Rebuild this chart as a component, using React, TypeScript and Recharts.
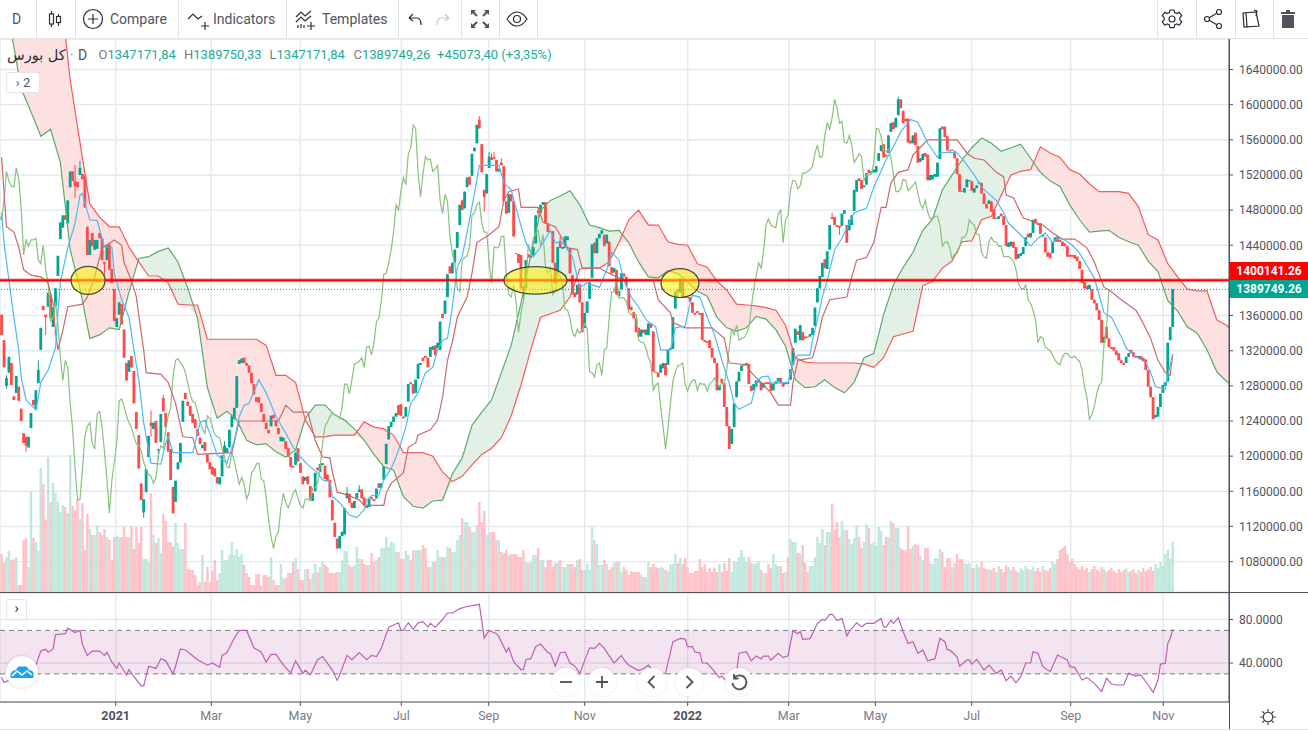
import {
  ComposedChart,
  Area,
  Bar,
  Line,
  XAxis,
  YAxis,
  CartesianGrid,
  ReferenceLine,
  ReferenceArea,
  ReferenceDot,
} from 'recharts';

// prices are in thousands of index points, one entry per trading day
const opens = [
  1361, 1332, 1280, 1295, 1306, 1268, 1272, 1279, 1254, 1226, 1222, 1210, 1232, 1264, 1253, 1283, 1321, 1371, 1361, 1370,
  1383, 1347, 1371, 1405, 1447, 1460, 1474, 1465, 1506, 1524, 1513, 1512, 1520, 1521, 1519, 1461, 1429, 1454, 1435, 1436,
  1454, 1448, 1421, 1423, 1441, 1413, 1390, 1347, 1361, 1373, 1344, 1306, 1296, 1314, 1297, 1250, 1224, 1169, 1136, 1159,
  1199, 1238, 1231, 1240, 1207, 1216, 1266, 1249, 1227, 1208, 1165, 1148, 1185, 1193, 1239, 1272, 1262, 1257, 1248, 1242,
  1231, 1221, 1209, 1216, 1202, 1193, 1188, 1186, 1176, 1168, 1177, 1204, 1204, 1210, 1233, 1242, 1255, 1305, 1306,
  1312, 1306, 1303, 1295, 1282, 1267, 1267, 1260, 1248, 1238, 1230, 1234, 1247, 1241, 1232, 1217, 1217, 1217, 1209, 1199,
  1189, 1190, 1209, 1192, 1177, 1172, 1177, 1166, 1149, 1160, 1187, 1182, 1190, 1189, 1179, 1173, 1150, 1124, 1106, 1095,
  1109, 1111, 1152, 1157, 1147, 1141, 1152, 1159, 1162, 1153, 1144, 1142, 1153, 1151, 1152, 1169, 1164, 1173, 1191, 1219,
  1233, 1239, 1245, 1258, 1259, 1245, 1245, 1262, 1284, 1282, 1272, 1288, 1304, 1312, 1314, 1312, 1313, 1321, 1326, 1323,
  1321, 1362, 1362, 1381, 1416, 1408, 1420, 1437, 1463, 1491, 1482, 1506, 1518, 1519, 1547, 1556, 1583, 1555, 1503, 1499,
  1528, 1540, 1540, 1537, 1524, 1534, 1530, 1490, 1477, 1498, 1490, 1431, 1430, 1429, 1394, 1391, 1430, 1426, 1428, 1442,
  1479, 1477, 1486, 1489, 1465, 1456, 1456, 1420, 1408, 1445, 1436, 1437, 1446, 1437, 1406, 1386, 1384, 1396, 1375, 1346,
  1363, 1379, 1403, 1443, 1431, 1448, 1453, 1452, 1442, 1444, 1415, 1409, 1412, 1382, 1390, 1408, 1404, 1391, 1370, 1364,
  1357, 1346, 1336, 1344, 1338, 1338, 1351, 1342, 1296, 1295, 1295, 1300, 1306, 1304, 1321, 1322, 1368, 1390, 1386, 1400,
  1382, 1381, 1381, 1375, 1363, 1365, 1363, 1363, 1332, 1331, 1332, 1323, 1312, 1306, 1275, 1288, 1283, 1256, 1234, 1214,
  1233, 1267, 1285, 1297, 1303, 1304, 1305, 1280, 1275, 1279, 1284, 1284, 1278, 1284, 1284, 1283, 1275, 1282, 1285, 1289,
  1283, 1282, 1284, 1287, 1304, 1329, 1342, 1332, 1341, 1336, 1336, 1336, 1338, 1348, 1375, 1391, 1404, 1424, 1413, 1435,
  1472, 1472, 1463, 1462, 1462, 1476, 1463, 1457, 1463, 1479, 1501, 1516, 1514, 1506, 1509, 1526, 1522, 1523, 1523, 1536,
  1547, 1555, 1543, 1545, 1569, 1580, 1574, 1588, 1606, 1593, 1584, 1584, 1559, 1556, 1568, 1553, 1535, 1537, 1545, 1543,
  1514, 1515, 1518, 1518, 1538, 1575, 1575, 1564, 1548, 1548, 1547, 1539, 1521, 1502, 1500, 1506, 1513, 1513, 1500, 1505,
  1510, 1511, 1499, 1487, 1487, 1490, 1481, 1470, 1470, 1476, 1473, 1463, 1438, 1439, 1444, 1438, 1425, 1428, 1430, 1439,
  1453, 1449, 1454, 1470, 1465, 1465, 1450, 1449, 1432, 1431, 1431, 1444, 1450, 1446, 1444, 1442, 1439, 1429, 1429, 1429,
  1427, 1422, 1412, 1398, 1394, 1390, 1390, 1378, 1374, 1366, 1355, 1329, 1347, 1334, 1324, 1324, 1320, 1317, 1309, 1306,
  1306, 1313, 1321, 1318, 1314, 1312, 1314, 1312, 1310, 1298, 1279, 1267, 1244, 1245, 1256, 1272, 1280, 1285, 1332, 1347,
];
const closes = [
  1338, 1301, 1289, 1313, 1281, 1264, 1291, 1263, 1240, 1215, 1212, 1222, 1249, 1258, 1275, 1298, 1346, 1366, 1358, 1386,
  1357, 1369, 1391, 1428, 1466, 1474, 1469, 1491, 1524, 1513, 1507, 1506, 1528, 1515, 1483, 1429, 1446, 1439, 1446, 1446,
  1448, 1423, 1419, 1440, 1412, 1397, 1354, 1357, 1375, 1350, 1312, 1286, 1309, 1301, 1260, 1231, 1186, 1150, 1151, 1185,
  1223, 1234, 1238, 1215, 1208, 1248, 1251, 1233, 1205, 1173, 1135, 1172, 1193, 1215, 1263, 1265, 1257, 1246, 1238, 1232,
  1223, 1214, 1213, 1206, 1193, 1185, 1179, 1177, 1169, 1176, 1201, 1212, 1209, 1230, 1246, 1255, 1291, 1309, 1311,
  1306, 1303, 1295, 1283, 1270, 1262, 1261, 1250, 1239, 1231, 1226, 1246, 1243, 1234, 1225, 1222, 1221, 1208, 1199, 1188,
  1187, 1204, 1194, 1181, 1168, 1176, 1168, 1151, 1158, 1181, 1184, 1191, 1192, 1174, 1172, 1153, 1127, 1108, 1095, 1109,
  1114, 1141, 1158, 1147, 1141, 1149, 1158, 1162, 1152, 1144, 1141, 1151, 1151, 1149, 1163, 1164, 1169, 1188, 1214, 1234,
  1239, 1245, 1249, 1247, 1246, 1243, 1256, 1282, 1282, 1271, 1287, 1305, 1306, 1308, 1312, 1301, 1324, 1325, 1315, 1329,
  1353, 1357, 1377, 1407, 1408, 1420, 1435, 1455, 1486, 1480, 1501, 1517, 1509, 1544, 1551, 1577, 1573, 1523, 1495, 1521,
  1541, 1537, 1538, 1524, 1527, 1531, 1490, 1476, 1498, 1490, 1450, 1430, 1420, 1391, 1387, 1423, 1426, 1428, 1438, 1474,
  1477, 1486, 1489, 1465, 1455, 1455, 1420, 1397, 1438, 1437, 1438, 1450, 1450, 1408, 1384, 1381, 1395, 1375, 1341, 1363,
  1376, 1398, 1441, 1431, 1448, 1453, 1457, 1439, 1452, 1416, 1408, 1414, 1384, 1388, 1408, 1404, 1394, 1367, 1366, 1357,
  1341, 1336, 1344, 1340, 1344, 1351, 1346, 1296, 1295, 1290, 1304, 1306, 1292, 1321, 1323, 1358, 1387, 1387, 1402, 1380,
  1380, 1380, 1376, 1363, 1361, 1363, 1361, 1332, 1330, 1329, 1323, 1312, 1306, 1275, 1281, 1283, 1256, 1234, 1208, 1231,
  1260, 1285, 1296, 1303, 1304, 1306, 1282, 1274, 1282, 1286, 1287, 1275, 1283, 1282, 1282, 1274, 1282, 1285, 1289, 1283,
  1279, 1283, 1282, 1299, 1323, 1345, 1338, 1349, 1332, 1334, 1335, 1339, 1346, 1369, 1391, 1405, 1420, 1414, 1433, 1463,
  1470, 1463, 1461, 1460, 1476, 1480, 1443, 1469, 1474, 1503, 1514, 1513, 1504, 1508, 1522, 1522, 1524, 1526, 1530, 1545,
  1554, 1540, 1541, 1565, 1579, 1572, 1585, 1606, 1596, 1579, 1581, 1557, 1556, 1565, 1554, 1534, 1539, 1544, 1541, 1514,
  1520, 1520, 1521, 1534, 1573, 1572, 1563, 1548, 1547, 1549, 1539, 1521, 1501, 1501, 1505, 1515, 1514, 1502, 1505, 1508,
  1512, 1499, 1487, 1482, 1491, 1478, 1470, 1471, 1473, 1473, 1463, 1439, 1443, 1444, 1437, 1424, 1430, 1431, 1438, 1449,
  1449, 1454, 1469, 1465, 1463, 1453, 1452, 1432, 1427, 1425, 1444, 1449, 1444, 1444, 1439, 1439, 1427, 1427, 1427, 1425,
  1422, 1413, 1397, 1391, 1390, 1395, 1378, 1374, 1366, 1355, 1329, 1336, 1334, 1324, 1322, 1320, 1315, 1309, 1306, 1304,
  1313, 1317, 1317, 1313, 1312, 1314, 1310, 1308, 1298, 1279, 1267, 1242, 1247, 1256, 1271, 1281, 1284, 1329, 1347, 1390,
];
// the few days whose wick is long enough to see: [bar, high, low]
const longWicks = [
  [2, 1292, 1277], [10, 1222, 1205], [15, 1309, 1283], [18, 1361, 1338], [30, 1531, 1494], [32, 1536, 1520], [42, 1421, 1406],
  [58, 1151, 1130], [61, 1252, 1222], [64, 1208, 1197], [66, 1270, 1251], [91, 1217, 1204], [141, 1165, 1152], [146, 1167, 1159],
  [195, 1587, 1573], [197, 1503, 1478], [199, 1546, 1528], [200, 1545, 1537], [201, 1546, 1538], [204, 1539, 1531], [213, 1394, 1380],
  [219, 1483, 1470], [228, 1450, 1437], [276, 1390, 1380], [339, 1477, 1470], [342, 1462, 1452], [366, 1609, 1588],
];
const volumes = [
  38, 29, 35, 41, 32, 33, 35, 7, 7, 52, 54, 25, 101, 54, 50, 41, 124, 108, 72, 135,
  90, 109, 99, 90, 80, 87, 85, 79, 137, 86, 82, 92, 73, 89, 42, 78, 63, 57, 57, 67,
  60, 57, 63, 55, 52, 32, 55, 56, 55, 55, 65, 55, 55, 66, 43, 65, 49, 65, 33, 33,
  29, 99, 57, 49, 54, 39, 78, 71, 50, 50, 45, 69, 49, 43, 43, 69, 23, 22, 22, 17,
  7, 10, 37, 10, 25, 10, 21, 32, 12, 19, 42, 32, 32, 37, 50, 37, 43, 35, 38, 27,
  19, 15, 7, 7, 18, 18, 7, 17, 17, 15, 35, 12, 7, 7, 28, 14, 14, 19, 19, 30,
  34, 23, 12, 12, 23, 23, 13, 19, 28, 20, 25, 30, 27, 25, 19, 19, 19, 20, 20, 32,
  41, 41, 27, 25, 27, 45, 33, 33, 28, 27, 27, 39, 30, 32, 35, 44, 44, 55, 45, 50,
  49, 40, 40, 33, 33, 41, 37, 32, 42, 42, 42, 42, 47, 44, 25, 25, 30, 30, 42, 35,
  35, 35, 45, 44, 40, 40, 52, 57, 74, 70, 70, 65, 60, 60, 67, 90, 70, 81, 57, 59,
  60, 60, 52, 52, 40, 39, 42, 37, 38, 38, 38, 35, 35, 42, 30, 29, 30, 37, 37, 44,
  32, 32, 25, 32, 32, 25, 29, 29, 32, 25, 25, 28, 28, 28, 25, 32, 33, 22, 22, 28,
  22, 65, 52, 48, 27, 27, 32, 28, 22, 25, 29, 30, 30, 20, 25, 22, 17, 21, 20, 20,
  20, 17, 15, 15, 30, 25, 28, 25, 24, 25, 24, 22, 21, 28, 28, 38, 29, 34, 28, 34,
  25, 19, 19, 21, 21, 33, 25, 28, 20, 24, 20, 24, 20, 28, 20, 29, 21, 34, 20, 30,
  30, 35, 42, 35, 30, 35, 29, 28, 29, 31, 22, 19, 19, 28, 24, 38, 28, 26, 26, 19,
  20, 35, 53, 50, 50, 39, 39, 47, 29, 20, 26, 26, 35, 55, 49, 63, 47, 60, 60, 88,
  62, 70, 55, 71, 62, 62, 53, 48, 54, 67, 55, 44, 50, 68, 64, 48, 50, 47, 65, 61,
  47, 55, 55, 71, 69, 64, 64, 44, 42, 42, 66, 43, 46, 48, 47, 36, 32, 44, 44, 29,
  28, 34, 34, 43, 40, 25, 34, 34, 25, 29, 38, 33, 33, 29, 28, 29, 24, 24, 28, 25,
  30, 24, 23, 23, 22, 24, 20, 26, 23, 20, 27, 25, 22, 25, 21, 20, 24, 22, 26, 23,
  22, 25, 21, 24, 20, 26, 22, 21, 24, 30, 28, 33, 42, 44, 46, 38, 30, 33, 28, 25,
  23, 26, 22, 24, 20, 23, 26, 22, 21, 25, 23, 20, 22, 24, 21, 19, 23, 20, 22, 24,
  20, 21, 23, 19, 22, 20, 24, 21, 23, 25, 21, 28, 24, 30, 26, 38, 42, 33, 50,
];
// ichimoku lines read at their corners: [bar, price]
const tenkan = [
  [0, 1477], [1, 1443], [3, 1400], [5, 1358], [7, 1321], [8, 1290], [10, 1264], [12, 1258], [14, 1253], [15, 1267], [16, 1284], [19, 1298],
  [22, 1323], [23, 1363], [24, 1398], [27, 1437], [30, 1465], [32, 1497], [33, 1499], [34, 1488], [36, 1469], [39, 1468], [41, 1448], [42, 1438],
  [45, 1438], [46, 1408], [49, 1378], [52, 1358], [53, 1340], [54, 1321], [56, 1287], [58, 1238], [59, 1222], [61, 1192], [65, 1191], [67, 1215],
  [68, 1222], [70, 1204], [78, 1204], [81, 1238], [83, 1241], [86, 1218], [88, 1201], [92, 1192], [95, 1218], [97, 1245], [99, 1258], [101, 1260],
  [105, 1287], [108, 1272], [112, 1245], [116, 1226], [119, 1210], [122, 1199], [125, 1190], [129, 1181], [131, 1173], [134, 1171], [135, 1154],
  [138, 1147], [142, 1133], [145, 1130], [148, 1139], [149, 1150], [151, 1155], [154, 1156], [156, 1173], [159, 1186], [161, 1199], [163, 1215],
  [165, 1233], [167, 1260], [170, 1272], [173, 1295], [176, 1301], [178, 1321], [180, 1332], [182, 1334], [184, 1370], [186, 1415], [188, 1427],
  [191, 1469], [194, 1514], [195, 1531], [203, 1531], [205, 1511], [208, 1503], [211, 1472], [214, 1443], [217, 1427], [220, 1438], [224, 1457],
  [226, 1443], [229, 1443], [233, 1427], [236, 1392], [239, 1397], [244, 1392], [247, 1412], [249, 1432], [252, 1423], [254, 1400], [257, 1381],
  [260, 1370], [263, 1355], [267, 1347], [269, 1321], [273, 1321], [275, 1346], [279, 1348], [281, 1374], [282, 1383], [285, 1381], [288, 1358],
  [291, 1338], [294, 1309], [297, 1283], [299, 1260], [301, 1253], [304, 1258], [306, 1260], [308, 1283], [310, 1290], [313, 1291], [314, 1283],
  [316, 1283], [321, 1284], [323, 1306], [325, 1315], [330, 1315], [331, 1332], [333, 1355], [335, 1381], [337, 1400], [340, 1435], [343, 1448],
  [348, 1477], [353, 1482], [356, 1506], [361, 1537], [364, 1552], [367, 1569], [371, 1583], [374, 1580], [376, 1568], [378, 1556], [382, 1540],
  [383, 1545], [387, 1546], [390, 1545], [393, 1535], [397, 1520], [400, 1506], [402, 1501], [406, 1491], [409, 1477], [411, 1465], [414, 1457],
  [417, 1449], [420, 1439], [423, 1448], [426, 1454], [429, 1443], [431, 1448], [434, 1446], [437, 1440], [440, 1431], [443, 1417], [446, 1403],
  [450, 1363], [453, 1358], [457, 1336], [459, 1323], [463, 1313], [467, 1307], [469, 1295], [471, 1279], [475, 1276], [476, 1292], [478, 1316],
];
const kijun = [
  [0, 1540], [2, 1461], [5, 1455], [7, 1438], [9, 1412], [12, 1406], [16, 1404], [19, 1397], [21, 1374], [22, 1340], [23, 1321], [25, 1343],
  [27, 1370], [33, 1373], [35, 1381], [38, 1404], [41, 1437], [46, 1446], [49, 1440], [50, 1420], [53, 1400], [55, 1381], [57, 1340], [58, 1321],
  [59, 1295], [65, 1293], [68, 1284], [71, 1260], [74, 1222], [78, 1221], [80, 1202], [94, 1204], [97, 1240], [113, 1240], [116, 1258], [119, 1250],
  [125, 1250], [128, 1218], [131, 1199], [134, 1198], [135, 1182], [137, 1159], [141, 1156], [146, 1150], [148, 1144], [156, 1144], [157, 1158],
  [159, 1169], [164, 1181], [166, 1210], [169, 1215], [170, 1224], [175, 1230], [178, 1241], [180, 1267], [182, 1309], [184, 1330], [186, 1358],
  [190, 1381], [192, 1408], [194, 1443], [199, 1452], [203, 1461], [205, 1491], [207, 1501], [211, 1504], [212, 1483], [219, 1483], [221, 1466],
  [226, 1461], [231, 1437], [235, 1435], [237, 1414], [244, 1414], [248, 1408], [254, 1400], [266, 1400], [268, 1378], [273, 1363], [274, 1352],
  [279, 1346], [290, 1346], [295, 1334], [297, 1306], [304, 1304], [306, 1295], [310, 1284], [314, 1272], [317, 1258], [322, 1258], [323, 1283],
  [325, 1309], [331, 1312], [333, 1332], [335, 1358], [338, 1378], [345, 1381], [347, 1404], [349, 1423], [353, 1426], [356, 1443], [359, 1483],
  [361, 1483], [363, 1511], [366, 1523], [370, 1526], [372, 1543], [378, 1560], [390, 1560], [394, 1545], [397, 1539], [401, 1537], [406, 1523],
  [409, 1518], [410, 1497], [413, 1494], [417, 1471], [425, 1463], [429, 1454], [433, 1447], [438, 1447], [443, 1437], [446, 1421], [450, 1392],
  [452, 1389], [457, 1378], [463, 1366], [466, 1351], [469, 1334], [472, 1309], [475, 1295], [477, 1292], [478, 1316],
];
// cloud edges share their sampling, one value every cloudStep bars
const cloudStep = 4;
const spanA = [
  1753, 1682, 1618, 1592, 1564, 1572, 1534, 1435, 1391, 1334, 1338, 1346, 1344, 1387, 1425, 1427, 1433, 1437, 1421, 1391,
  1357, 1278, 1243, 1251, 1241, 1218, 1213, 1214, 1205, 1199, 1207, 1243, 1258, 1258, 1247, 1241, 1231, 1218, 1202, 1188,
  1184, 1154, 1143, 1141, 1149, 1150, 1180, 1198, 1235, 1250, 1264, 1295, 1326, 1374, 1429, 1480, 1491, 1496, 1502, 1486,
  1463, 1460, 1456, 1457, 1443, 1421, 1404, 1403, 1411, 1408, 1398, 1388, 1382, 1358, 1346, 1342, 1346, 1359, 1356, 1344,
  1325, 1287, 1278, 1279, 1287, 1278, 1272, 1284, 1312, 1317, 1361, 1395, 1415, 1432, 1457, 1470, 1503, 1520, 1537, 1551,
  1562, 1556, 1547, 1551, 1555, 1539, 1523, 1513, 1507, 1486, 1469, 1455, 1456, 1457, 1449, 1444, 1440, 1422, 1410, 1377,
  1365, 1347, 1340, 1321, 1296, 1285, 1278,
];
const spanB = [
  1810, 1810, 1799, 1787, 1776, 1765, 1731, 1628, 1557, 1487, 1472, 1461, 1461, 1438, 1421, 1405, 1405, 1397, 1373, 1372,
  1372, 1333, 1333, 1333, 1333, 1333, 1333, 1326, 1292, 1292, 1284, 1241, 1222, 1222, 1224, 1224, 1224, 1239, 1233, 1231,
  1224, 1204, 1204, 1204, 1200, 1182, 1171, 1177, 1190, 1202, 1209, 1221, 1246, 1281, 1321, 1358, 1362, 1366, 1381, 1413,
  1414, 1414, 1421, 1443, 1469, 1480, 1463, 1463, 1444, 1441, 1440, 1419, 1415, 1399, 1389, 1373, 1372, 1371, 1369, 1366,
  1349, 1312, 1307, 1306, 1306, 1306, 1306, 1306, 1305, 1301, 1312, 1336, 1339, 1342, 1394, 1399, 1414, 1422, 1444, 1445,
  1469, 1473, 1497, 1520, 1524, 1526, 1552, 1545, 1540, 1526, 1521, 1510, 1501, 1501, 1501, 1499, 1484, 1452, 1446, 1419,
  1404, 1390, 1388, 1388, 1355, 1349, 1338,
];
// rsi read at its corners: [bar, value]
const rsi = [
  [0, 26.8], [1, 22], [3, 24], [8, 30], [13, 38], [14, 38], [16, 51], [18, 52.6], [19, 50], [21, 53], [22, 66], [26, 67], [27, 72], [30, 68], [32, 70],
  [33, 57], [35, 47], [37, 51], [40, 51], [42, 47], [43, 50], [45, 41], [47, 35], [48, 40], [51, 29], [52, 34], [53, 30.5], [57, 19], [58, 19], [60, 37],
  [63, 35], [65, 44], [67, 42], [70, 30], [71, 37], [73, 53], [75, 52], [80, 43], [84, 38], [86, 40], [89, 36], [90, 47], [92, 49.5], [95, 63], [97, 70],
  [100, 70], [103, 54], [106, 50], [108, 41], [110, 48], [112, 48], [115, 38], [118, 31], [120, 42], [123, 30.5], [124, 33.5], [126, 29], [129, 43],
  [131, 46], [135, 33.5], [137, 24], [138, 29], [141, 47], [143, 43], [146, 49.5], [149, 43], [151, 47], [153, 46], [155, 53.5], [158, 73], [162, 77],
  [163, 70], [164, 70], [166, 77], [168, 71], [170, 77], [172, 78], [174, 73], [175, 76.5], [177, 73], [180, 80], [182, 86], [184, 86], [187, 90],
  [190, 92], [195, 94], [197, 63], [199, 70], [202, 67], [203, 64], [206, 50], [207, 54], [209, 41], [212, 34], [213, 34], [214, 43], [216, 44], [218, 55],
  [220, 57.5], [223, 49.5], [224, 49], [226, 37], [228, 49.5], [230, 50], [232, 40], [234, 37], [236, 30.5], [240, 54], [242, 53.5], [244, 58], [246, 53.5],
  [250, 40], [253, 47], [254, 43], [256, 38], [260, 33], [262, 35], [264, 38], [266, 32], [267, 29], [271, 30.5], [274, 59.6], [277, 62.7], [279, 62],
  [280, 55], [282, 55], [283, 50], [285, 49.5], [286, 40], [288, 40], [291, 32], [293, 26.5], [294, 28], [297, 20], [299, 18], [300, 32], [301, 49], [304, 50.5],
  [306, 42], [308, 46.4], [310, 43.7], [311, 46.4], [313, 46.4], [314, 42.8], [317, 49], [319, 45], [321, 46.7], [323, 69.7], [325, 67], [326, 69], [327, 61.8],
  [330, 62.4], [333, 76.5], [335, 80], [336, 79], [338, 84.8], [339, 85], [341, 79], [343, 81], [345, 65], [346, 69], [349, 77], [351, 73.4], [353, 76.5],
  [356, 76.5], [359, 81], [360, 73.4], [361, 72.8], [363, 79.5], [364, 76.5], [366, 81.7], [368, 68.8], [370, 58], [372, 59.6], [374, 49], [376, 52], [378, 42],
  [381, 44], [383, 62.7], [385, 59.6], [386, 52], [387, 52], [390, 45.8], [391, 37], [394, 42.8], [395, 42.8], [396, 39], [398, 43.4], [401, 33.6], [403, 38],
  [406, 30.5], [408, 33.6], [410, 23.8], [412, 28], [414, 22], [416, 27.4], [418, 40], [420, 40], [421, 50.4], [423, 49], [425, 36.6], [428, 32], [431, 47.4],
  [435, 42.8], [436, 36.6], [438, 36], [441, 24.4], [443, 26.8], [446, 21.3], [449, 13.6], [451, 26], [453, 20.7], [455, 19.8], [458, 19.8], [460, 30.5],
  [463, 28], [465, 29], [468, 19.8], [470, 13], [472, 24.4], [473, 39], [475, 39.7], [476, 58], [477, 62.7], [478, 71],
];
// 1400000 sits behind the red price tag in the reference, so it has no visible label
const priceTicks = [
  1640000, 1600000, 1560000, 1520000, 1480000, 1440000, 1360000, 1320000, 1280000, 1240000, 1200000, 1160000, 1120000, 1080000,
];
const rsiTicks = [80, 40];
const monthLabels = ['2021', 'Mar', 'May', 'Jul', 'Sep', 'Nov', '2022', 'Mar', 'May', 'Jul', 'Sep', 'Nov'];
const monthBars = [46.57, 85.59, 121.92, 163.15, 198.82, 238.0, 280.04, 321.27, 356.62, 395.96, 436.37, 474.16];
const alertPrice = 1400141.26;
const lastPrice = 1389749.26;
// yellow circles drawn on the chart by its author
const circleBars = [35.3, 217.9, 276.9];
const circlePrices = [1400, 1400, 1397];
const circleRadii = [[17, 14], [31.5, 13.7], [19, 14.5]];

const CHART_WIDTH = 1308;
const AXIS_WIDTH = 79;
const barDomain = [-0.65, 500.98];
const priceDomain = [1045400, 1674700];
const rsiDomain = [4.14, 104.4];
const volumeDomain = [0, 553];

const GRID = '#e1eaf0';
const AXIS = '#50535e';
const UP = '#00a693';
const DOWN = '#ff4a4a';
const TEXT = '#50535e';
const CANDLE_WIDTH = 2.8;
const VOLUME_WIDTH = 2.45;

const candleRows = closes.map((c, i) => {
  const wick = longWicks.find((w) => w[0] === i);
  const open = opens[i] * 1000;
  const close = c * 1000;
  const high = wick ? wick[1] * 1000 : Math.max(open, close);
  const low = wick ? wick[2] * 1000 : Math.min(open, close);
  return { bar: i, open, close, high, low, range: [low, high], volume: volumes[i] };
});
const cloudRows = spanA.map((a, i) => {
  const b = spanB[i];
  const floor = Math.min(a, b) * 1000;
  return { bar: i * cloudStep, a: a * 1000, b: b * 1000, green: [floor, a * 1000], red: [floor, b * 1000] };
});
const toRows = (points: number[][], unit = 1000) => points.map(([bar, v]) => ({ bar, value: v * unit }));
const tenkanRows = toRows(tenkan);
const kijunRows = toRows(kijun);
const chikouRows = closes.map((c, i) => ({ bar: i - 26, value: c * 1000 }));
const rsiRows = toRows(rsi, 1);

const Candle = (props: any) => {
  const { x, y, width, height, payload } = props;
  if (!payload || payload.high === payload.low) return null;
  const perUnit = height / (payload.high - payload.low);
  const top = y + (payload.high - Math.max(payload.open, payload.close)) * perUnit;
  const bodyHeight = Math.max(Math.abs(payload.open - payload.close) * perUnit, 1);
  const color = payload.close >= payload.open ? UP : DOWN;
  const center = x + width / 2;
  return (
    <g>
      <line x1={center} x2={center} y1={y} y2={y + height} stroke={color} strokeWidth={1} />
      <rect x={center - CANDLE_WIDTH / 2} y={top} width={CANDLE_WIDTH} height={bodyHeight} fill={color} />
    </g>
  );
};

const VolumeBar = (props: any) => {
  const { x, y, width, height, payload } = props;
  const up = payload.close >= payload.open;
  return <rect x={x + width / 2 - VOLUME_WIDTH / 2} y={y} width={VOLUME_WIDTH} height={height} fill={up ? '#bbe6d9' : '#ffbdc3'} fillOpacity={0.92} />;
};

const MonthTick = (props: any) => {
  const { x, y, payload } = props;
  const label = monthLabels[monthBars.indexOf(payload.value)];
  const isYear = label && label.startsWith('20');
  return (
    <text x={x} y={y + 12} textAnchor="middle" fontSize={12.5} fontWeight={isYear ? 700 : 400} fill={isYear ? TEXT : '#787b86'}>
      {label}
    </text>
  );
};

const circleShape = (radii: number[]) => (props: any) => (
  <ellipse cx={props.cx} cy={props.cy} rx={radii[0]} ry={radii[1]} fill="rgba(255,240,0,0.55)" stroke="#4a4a3a" strokeWidth={1.3} />
);

const Icon = ({ x, w = 24, children }: { x: number; w?: number; children: any }) => (
  <svg style={{ position: 'absolute', left: x - w / 2, top: 19 - w / 2 }} width={w} height={w} viewBox="0 0 24 24" fill="none" stroke="#2a2e39" strokeWidth={1.2}>
    {children}
  </svg>
);

const Label = ({ x, children }: { x: number; children: any }) => (
  <div style={{ position: 'absolute', left: x, top: 10, fontSize: 14, color: TEXT, lineHeight: '18px' }}>{children}</div>
);

const Round = ({ x, children }: { x: number; children: any }) => (
  <div style={{ position: 'absolute', left: x - 14, top: 668, width: 28, height: 28, borderRadius: 14, background: 'rgba(255,255,255,0.92)', boxShadow: '0 0 3px rgba(0,0,0,0.12)' }}>
    <svg width={28} height={28} viewBox="0 0 28 28" fill="none" stroke="#50535e" strokeWidth={1.8}>
      {children}
    </svg>
  </div>
);

const Legend = ({ x, letter, value }: { x: number; letter: string; value: string }) => (
  <div style={{ position: 'absolute', left: x, top: 47, fontSize: 13, lineHeight: '16px', whiteSpace: 'nowrap' }}>
    <span style={{ color: '#787b86' }}>{letter}</span>
    <span style={{ color: '#22ab94' }}>{value}</span>
  </div>
);

const toolbarDividers = [35.5, 74.5, 177.5, 285.5, 397.5, 460.5, 498.5, 536.5, 1156.5, 1195.5, 1234.5, 1272.5];

export default function App() {
  return (
    <div style={{ position: 'absolute', left: 0, top: 0, width: CHART_WIDTH, height: 731, background: '#fff', overflow: 'hidden', fontFamily: 'Roboto, sans-serif' }}>
      {/* main pane */}
      <div style={{ position: 'absolute', left: 0, top: 39 }}>
        <ComposedChart width={CHART_WIDTH} height={553} data={candleRows} margin={{ top: 0, right: 0, bottom: 0, left: 0 }} barGap={0}>
          <CartesianGrid stroke={GRID} strokeWidth={1.4} />
          <XAxis dataKey="bar" type="number" domain={barDomain} ticks={monthBars} allowDataOverflow hide />
          <XAxis xAxisId="vol" dataKey="bar" type="number" domain={barDomain} allowDataOverflow hide />
          <YAxis
            orientation="right"
            width={AXIS_WIDTH}
            domain={priceDomain}
            ticks={priceTicks}
            allowDataOverflow
            interval={0}
            tickFormatter={(v: number) => v.toFixed(2)}
            tick={{ fontSize: 12, fill: TEXT }}
            tickSize={4}
            tickMargin={6}
            stroke={AXIS}
          />
          <YAxis yAxisId="vol" domain={volumeDomain} hide />
          <Area data={cloudRows} dataKey="green" stroke="none" fill="#e2f0e6" fillOpacity={1} dot={false} activeDot={false} isAnimationActive={false} />
          <Area data={cloudRows} dataKey="red" stroke="none" fill="#fde0e0" fillOpacity={1} dot={false} activeDot={false} isAnimationActive={false} />
          <Bar xAxisId="vol" yAxisId="vol" dataKey="volume" barSize={2.45} shape={VolumeBar} isAnimationActive={false} />
          <Line data={cloudRows} dataKey="a" stroke="#5aab68" strokeWidth={1.2} dot={false} activeDot={false} isAnimationActive={false} />
          <Line data={cloudRows} dataKey="b" stroke="#f65a5a" strokeWidth={1.2} dot={false} activeDot={false} isAnimationActive={false} />
          <Line data={chikouRows} dataKey="value" stroke="#8ac17d" strokeWidth={1.2} dot={false} activeDot={false} isAnimationActive={false} />
          <Line data={kijunRows} dataKey="value" stroke="#c96a6a" strokeWidth={1.2} dot={false} activeDot={false} isAnimationActive={false} />
          <Line data={tenkanRows} dataKey="value" stroke="#4dbaf5" strokeWidth={1.2} dot={false} activeDot={false} isAnimationActive={false} />
          <Bar dataKey="range" barSize={2.4} shape={Candle} isAnimationActive={false} />
          <ReferenceLine y={alertPrice} stroke="rgba(255,0,0,0.3)" strokeWidth={4} />
          <ReferenceLine y={alertPrice} stroke="#ff0000" strokeWidth={2} />
          <ReferenceLine y={lastPrice} stroke="#0a8f7e" strokeWidth={1} strokeDasharray="1 2" />
          {circleBars.map((bar, i) => (
            <ReferenceDot key={bar} x={bar} y={circlePrices[i] * 1000} shape={circleShape(circleRadii[i])} />
          ))}
        </ComposedChart>
      </div>

      {/* rsi pane and time axis */}
      <div style={{ position: 'absolute', left: 0, top: 593 }}>
        <ComposedChart width={CHART_WIDTH} height={136} data={rsiRows} margin={{ top: 0, right: 0, bottom: 0, left: 0 }}>
          <CartesianGrid stroke={GRID} strokeWidth={1.4} />
          <XAxis
            dataKey="bar"
            type="number"
            domain={barDomain}
            ticks={monthBars}
            interval={0}
            allowDataOverflow
            height={27}
            tick={MonthTick}
            tickSize={4}
            stroke={AXIS}
          />
          <YAxis
            orientation="right"
            width={AXIS_WIDTH}
            domain={rsiDomain}
            ticks={rsiTicks}
            interval={0}
            allowDataOverflow
            tickFormatter={(v: number) => v.toFixed(4)}
            tick={{ fontSize: 12, fill: TEXT }}
            tickSize={4}
            tickMargin={6}
            stroke={AXIS}
          />
          <ReferenceArea y1={30} y2={70} fill="#c77ab6" fillOpacity={0.2} stroke="none" />
          <ReferenceLine y={70} stroke="#787b86" strokeDasharray="5 4" />
          <ReferenceLine y={30} stroke="#787b86" strokeDasharray="5 4" />
          <Line dataKey="value" stroke="#bd5fb4" strokeWidth={1.2} dot={false} activeDot={false} isAnimationActive={false} />
        </ComposedChart>
      </div>

      {/* pane frame */}
      <div style={{ position: 'absolute', left: 0, top: 592, width: 1308, height: 1, background: AXIS }} />
      <div style={{ position: 'absolute', left: 1229, top: 39, width: 1, height: 690, background: AXIS }} />
      <div style={{ position: 'absolute', left: 0, top: 729, width: 1308, height: 1, background: '#e0e3eb' }} />

      {/* toolbar */}
      <div style={{ position: 'absolute', left: 0, top: 0, width: 1308, height: 38, background: '#fff', borderBottom: '1px solid #e0e3eb' }}>
        {toolbarDividers.map((x) => (
          <div key={x} style={{ position: 'absolute', left: x, top: 0, width: 1, height: 38, background: '#e0e3eb' }} />
        ))}
        <Label x={12}>D</Label>
        <Icon x={55}>
          <path d="M8.5 4v16M15.5 7v12" />
          <rect x="6.5" y="7" width="4" height="10" fill="#fff" />
          <rect x="13.5" y="9.5" width="4" height="6" fill="#fff" />
        </Icon>
        <Icon x={93}>
          <circle cx="12" cy="12" r="9.5" />
          <path d="M12 7v10M7 12h10" />
        </Icon>
        <Label x={110}>Compare</Label>
        <Icon x={198}>
          <path d="M2 12l5-5 5 5 4-3M15 19h8M19 15v8" />
        </Icon>
        <Label x={213}>Indicators</Label>
        <Icon x={305}>
          <path d="M3 10l5-5 4 4 6-5M3 15l5-5 4 4 6-5M5 21v-3M8 21v-4M11 21v-3M14 19h8M18 15v8" />
        </Icon>
        <Label x={322}>Templates</Label>
        <Icon x={415}>
          <path d="M6 11l4-4M6 11l4 3M6 11h8c3 0 4 3 4 7" />
        </Icon>
        <svg style={{ position: 'absolute', left: 431, top: 7 }} width={24} height={24} viewBox="0 0 24 24" fill="none" stroke="#c5c8d0" strokeWidth={1.2}>
          <path d="M18 11l-4-4M18 11l-4 3M18 11h-8c-3 0-4 3-4 7" />
        </svg>
        <Icon x={480}>
          <path d="M4 4l5 5M20 4l-5 5M4 20l5-5M20 20l-5-5" stroke="#50535e" strokeWidth={2} />
          <path d="M3 3h5l-5 5zM21 3h-5l5 5zM3 21h5l-5-5zM21 21h-5l5-5z" fill="#50535e" stroke="none" />
        </Icon>
        <Icon x={517}>
          <path d="M2 12c4-6 7-7 10-7s6 1 10 7c-4 6-7 7-10 7s-6-1-10-7z" />
          <circle cx="12" cy="12" r="3.5" />
        </Icon>
        <Icon x={1172}>
          <path d="M10 3h4l.6 2.6 2.2 1 2.4-1.3 2.6 3.4-2 1.9v2.4l2 1.9-2.6 3.4-2.4-1.3-2.2 1-.6 2.6h-4l-.6-2.6-2.2-1-2.4 1.3-2.6-3.4 2-1.9v-2.4l-2-1.9 2.6-3.4 2.4 1.3 2.2-1z" />
          <circle cx="12" cy="12" r="3" />
        </Icon>
        <Icon x={1213}>
          <circle cx="6" cy="12" r="2.5" />
          <circle cx="18" cy="5" r="2.5" />
          <circle cx="18" cy="19" r="2.5" />
          <path d="M8.2 10.8l7.6-4.6M8.2 13.2l7.6 4.6" />
        </Icon>
        <Icon x={1251}>
          <path d="M4 6l13-1 3 14-15 1zM7 6l1 14M15 3l3 1-1 5" />
        </Icon>
        <Icon x={1288}>
          <path d="M6 8h12v13H6z" fill={AXIS} stroke="none" />
          <path d="M5 5h14v2H5zM10 3h4v2h-4z" fill={AXIS} stroke="none" />
        </Icon>
      </div>

      {/* series legend */}
      <div style={{ position: 'absolute', left: 7, top: 45, fontSize: 14.5, lineHeight: '20px', color: '#2a2e39', fontFamily: '"DejaVu Sans", sans-serif', direction: 'rtl', whiteSpace: 'nowrap' }}>کل بورس</div>
      <div style={{ position: 'absolute', left: 70, top: 47, fontSize: 13, lineHeight: '16px', color: '#787b86' }}>·</div>
      <div style={{ position: 'absolute', left: 78, top: 46, fontSize: 14, lineHeight: '18px', color: TEXT }}>D</div>
      <Legend x={98.5} letter="O" value="1347171,84" />
      <Legend x={184} letter="H" value="1389750,33" />
      <Legend x={269.5} letter="L" value="1347171,84" />
      <Legend x={353.5} letter="C" value="1389749,26" />
      <Legend x={437} letter="" value="+45073,40 (+3,35%)" />
      <div style={{ position: 'absolute', left: 6, top: 72, width: 32, height: 19, border: '1px solid #e0e3eb', borderRadius: 3, background: '#fff', fontSize: 13, lineHeight: '19px', color: TEXT, textAlign: 'center' }}>› 2</div>
      <div style={{ position: 'absolute', left: 6, top: 599, width: 19, height: 19, border: '1px solid #e0e3eb', borderRadius: 3, background: '#fff', fontSize: 14, lineHeight: '17px', color: '#2a2e39', textAlign: 'center' }}>›</div>

      {/* price tags */}
      <div style={{ position: 'absolute', left: 1230, top: 262, width: 78, height: 18, background: '#ff0000', color: '#fff', fontSize: 12, fontWeight: 700, lineHeight: '18px', textAlign: 'center' }}>1400141.26</div>
      <div style={{ position: 'absolute', left: 1230, top: 280, width: 78, height: 18, background: '#00a693', color: '#fff', fontSize: 12, fontWeight: 700, lineHeight: '18px', textAlign: 'center' }}>1389749.26</div>

      {/* floating controls */}
      <div style={{ position: 'absolute', left: 6, top: 656, width: 32, height: 32, borderRadius: 16, background: '#fff', boxShadow: '0 0 3px rgba(0,0,0,0.18)' }}>
        <svg width={32} height={32} viewBox="0 0 32 32">
          <path d="M5 22c-2-5 2-8 5-8 1-3 4-5 6-3 3-2 6 0 7 3 4 0 6 4 4 8z" fill="#1ba4e8" />
          <path d="M6 20l5-5 5 4 5-4 5 4" fill="none" stroke="#fff" strokeWidth={1.6} />
        </svg>
      </div>
      <Round x={566}><path d="M8 14h12" /></Round>
      <Round x={602}><path d="M8 14h12M14 8v12" /></Round>
      <Round x={652}><path d="M16.5 8l-6 6 6 6" /></Round>
      <Round x={689}><path d="M11.5 8l6 6-6 6" /></Round>
      <Round x={739}><path d="M9 10a7 7 0 1 1-1.5 5M9 6v4.5h4.5" /></Round>
      <svg style={{ position: 'absolute', left: 1259, top: 708 }} width={18} height={18} viewBox="0 0 18 18" fill="none" stroke="#2a2e39" strokeWidth={1.1}>
        <circle cx="9" cy="9" r="4.8" />
        <path d="M9 1v2.5M9 14.5V17M1 9h2.5M14.5 9H17M3.3 3.3l1.8 1.8M12.9 12.9l1.8 1.8M3.3 14.7l1.8-1.8M12.9 5.1l1.8-1.8" />
      </svg>
    </div>
  );
}
